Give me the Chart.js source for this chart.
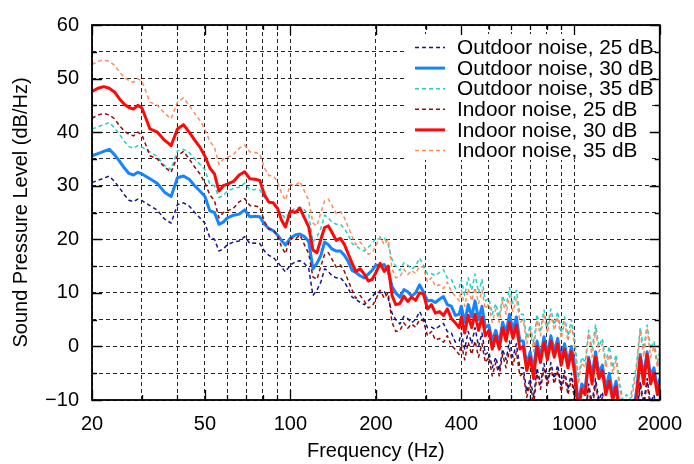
<!DOCTYPE html>
<html>
<head>
<meta charset="utf-8">
<script src="https://cdn.jsdelivr.net/npm/chart.js@4.4.1/dist/chart.umd.min.js"></script>
<style>
  body { margin: 0; background: #fff; }
  canvas { display: block; }
</style>
</head>
<body>
<canvas id="myChart" width="694" height="464"></canvas>
<script>
// frequencies (Hz) shared by every series
const freq = [
    20, 21, 22, 23, 24, 25, 26, 27, 28, 29, 30, 32, 34, 36, 38, 40, 42, 44, 46, 48, 50, 52, 54, 56, 58, 60, 63, 66, 69, 72, 75, 78, 81, 84, 87, 90, 93, 96,
    100, 104, 108, 112, 116, 120, 124, 128, 132, 136, 140, 145, 150, 155, 160, 165, 170, 176, 182, 188, 194, 200, 207, 214, 221, 228, 235, 243, 251, 259, 267, 276, 285, 294, 304, 314, 324, 335, 346, 357, 369, 381, 393,
    400, 411, 423, 435, 447, 460, 473, 486, 500, 514, 529, 544, 559, 575, 591, 608, 625, 643, 661, 680, 699, 719, 739, 760, 782, 804, 827, 850, 874, 899, 924, 950, 977, 1005, 1033, 1062, 1092, 1123, 1155, 1188, 1221, 1256, 1291, 1328, 1365, 1404, 1444, 1485, 1527, 1570, 1614, 1660, 1707, 1755, 1805, 1856, 1908, 1962, 2000
]

const outdoor25 = [
    30.6, 31.0, 31.4, 31.8, 30.8, 29.6, 28.3, 27.3, 27.0, 27.5, 27.2, 26.3, 25.4, 23.8, 23.0, 26.5, 26.8, 26.2, 25.0, 24.0, 23.0, 20.3, 20.0, 17.8, 18.2, 19.0, 19.5, 19.7, 20.5, 19.2, 19.3, 19.2, 17.8, 17.0, 16.6, 15.8, 14.8, 13.9,
    15.2, 15.8, 16.0, 15.5, 14.6, 9.5, 10.5, 12.0, 14.5, 14.0, 13.2, 12.8, 12.8, 12.0, 10.8, 9.2, 8.8, 8.2, 7.8, 8.5, 9.2, 10.2, 10.0, 10.3, 9.0, 6.2, 5.0, 4.2, 5.6, 5.2, 4.4, 5.0, 6.5, 5.2, 3.5, 3.6, 3.2, 3.8, 4.3, 2.8, 2.5, 0.8, 1.0,
    2.5, -0.5, 2.8, 0.5, 3.5, 0.0, 2.5, -1.5, -1.0, -4.0, -2.0, -4.5, -0.5, -2.5, 1.0, -2.0, 0.5, -4.0, -4.0, -8.5, -6.0, -9.5, -4.0, -7.0, -3.2, -6.5, -3.0, -6.0, -3.5, -7.5, -4.5, -8.0, -5.0, -9.0, -16.0, -12.0, -13.0, -7.0, -10.5, -6.0, -10.0, -8.5, -13.0, -10.0, -14.0, -11.5, -17.0, -20.0, -19.0, -20.0, -17.0, -13.0, -6.5, -10.5, -6.0, -10.5, -9.0, -13.0, -11.0
]
const outdoor30 = [
    35.6, 36.0, 36.4, 36.8, 35.8, 34.6, 33.3, 32.3, 32.0, 32.5, 32.2, 31.3, 30.4, 28.8, 28.0, 31.5, 31.8, 31.2, 30.0, 29.0, 28.0, 25.3, 25.0, 22.8, 23.2, 24.0, 24.5, 24.7, 25.5, 24.2, 24.3, 24.2, 22.8, 22.0, 21.6, 20.8, 19.8, 18.9,
    20.2, 20.8, 21.0, 20.5, 19.6, 14.5, 15.5, 17.0, 19.5, 19.0, 18.2, 17.8, 17.8, 17.0, 15.8, 14.2, 13.8, 13.2, 12.8, 13.5, 14.2, 15.2, 15.0, 15.3, 14.0, 11.2, 10.0, 9.2, 10.6, 10.2, 9.4, 10.0, 11.5, 10.2, 8.5, 8.6, 8.2, 8.8, 9.3, 7.8, 7.5, 5.8, 6.0,
    7.5, 4.5, 7.8, 5.5, 8.5, 5.0, 7.5, 3.5, 4.0, 1.0, 3.0, 0.5, 4.5, 2.5, 6.0, 3.0, 5.5, 1.0, 1.0, -3.5, -1.0, -4.5, 1.0, -2.0, 1.8, -1.5, 2.0, -1.0, 1.5, -2.5, 0.5, -3.0, 0.0, -4.0, -11.0, -7.0, -8.0, -2.0, -5.5, -1.0, -5.0, -3.5, -8.0, -5.0, -9.0, -6.5, -12.0, -15.0, -14.0, -15.0, -12.0, -8.0, -1.5, -5.5, -1.0, -5.5, -4.0, -8.0, -6.0
]
const outdoor35 = [
    40.6, 41.0, 41.4, 41.8, 40.8, 39.6, 38.3, 37.3, 37.0, 37.5, 37.2, 36.3, 35.4, 33.8, 33.0, 36.5, 36.8, 36.2, 35.0, 34.0, 33.0, 30.3, 30.0, 27.8, 28.2, 29.0, 29.5, 29.7, 30.5, 29.2, 29.3, 29.2, 27.8, 27.0, 26.6, 25.8, 24.8, 23.9,
    25.2, 25.8, 26.0, 25.5, 24.6, 19.5, 20.5, 22.0, 24.5, 24.0, 23.2, 22.8, 22.8, 22.0, 20.8, 19.2, 18.8, 18.2, 17.8, 18.5, 19.2, 20.2, 20.0, 20.3, 19.0, 16.2, 15.0, 14.2, 15.6, 15.2, 14.4, 15.0, 16.5, 15.2, 13.5, 13.6, 13.2, 13.8, 14.3, 12.8, 12.5, 10.8, 11.0,
    12.5, 9.5, 12.8, 10.5, 13.5, 10.0, 12.5, 8.5, 9.0, 6.0, 8.0, 5.5, 9.5, 7.5, 11.0, 8.0, 10.5, 6.0, 6.0, 1.5, 4.0, 0.5, 6.0, 3.0, 6.8, 3.5, 7.0, 4.0, 6.5, 2.5, 5.5, 2.0, 5.0, 1.0, -6.0, -2.0, -3.0, 3.0, -0.5, 4.0, 0.0, 1.5, -3.0, 0.0, -4.0, -1.5, -7.0, -10.0, -9.0, -10.0, -7.0, -3.0, 3.5, -0.5, 4.0, -0.5, 1.0, -3.0, -1.0
]
const indoor25 = [
    42.6, 43.2, 43.5, 43.2, 42.5, 41.2, 40.2, 39.6, 39.3, 40.0, 39.5, 35.6, 35.0, 33.5, 32.5, 35.6, 36.4, 35.0, 33.5, 32.2, 30.5, 28.3, 27.2, 24.0, 25.0, 25.3, 25.8, 27.0, 27.6, 26.3, 26.2, 26.0, 23.3, 21.9, 21.8, 20.8, 18.6, 17.3,
    20.3, 20.0, 20.8, 19.0, 17.3, 13.0, 12.5, 15.0, 17.2, 17.5, 16.3, 14.8, 15.2, 14.0, 12.2, 10.5, 9.0, 9.5, 8.5, 7.2, 7.5, 8.8, 10.5, 9.0, 10.0, 4.5, 2.8, 3.0, 4.4, 3.4, 4.2, 3.6, 5.0, 4.8, 2.0, 2.8, 1.2, 1.5, 0.8, 2.0, 0.2, -0.6, -1.5,
    0.5, -2.5, 0.8, -1.5, 1.0, -2.0, 0.5, -3.0, -2.0, -5.5, -3.0, -5.5, -1.5, -4.0, -0.5, -3.5, -1.0, -5.5, -5.0, -9.5, -7.0, -11.0, -5.0, -8.0, -4.2, -7.5, -4.0, -7.0, -4.5, -8.5, -5.5, -9.0, -6.0, -10.5, -17.0, -13.0, -14.0, -7.5, -12.0, -7.0, -11.0, -9.5, -14.0, -11.5, -15.0, -12.5, -18.0, -21.0, -20.0, -21.0, -18.0, -14.0, -7.0, -12.0, -6.5, -12.0, -10.0, -14.0, -12.0
]
const indoor30 = [
    47.6, 48.2, 48.5, 48.2, 47.5, 46.2, 45.2, 44.6, 44.3, 45.0, 44.5, 40.6, 40.0, 38.5, 37.5, 40.6, 41.4, 40.0, 38.5, 37.2, 35.5, 33.3, 32.2, 29.0, 30.0, 30.3, 30.8, 32.0, 32.6, 31.3, 31.2, 31.0, 28.3, 26.9, 26.8, 25.8, 23.6, 22.3,
    25.3, 25.0, 25.8, 24.0, 22.3, 18.0, 17.5, 20.0, 22.2, 22.5, 21.3, 19.8, 20.2, 19.0, 17.2, 15.5, 14.0, 14.5, 13.5, 12.2, 12.5, 13.8, 15.5, 14.0, 15.0, 9.5, 7.8, 8.0, 9.4, 8.4, 9.2, 8.6, 10.0, 9.8, 7.0, 7.8, 6.2, 6.5, 5.8, 7.0, 5.2, 4.4, 3.5,
    5.5, 2.5, 5.8, 3.5, 6.0, 3.0, 5.5, 2.0, 3.0, -0.5, 2.0, -0.5, 3.5, 1.0, 4.5, 1.5, 4.0, -0.5, 0.0, -4.5, -2.0, -6.0, 0.0, -3.0, 0.8, -2.5, 1.0, -2.0, 0.5, -3.5, -0.5, -4.0, -1.0, -5.5, -12.0, -8.0, -9.0, -2.5, -7.0, -2.0, -6.0, -4.5, -9.0, -6.5, -10.0, -7.5, -13.0, -16.0, -15.0, -16.0, -13.0, -9.0, -2.0, -7.0, -1.5, -7.0, -5.0, -9.0, -7.0
]
const indoor35 = [
    52.6, 53.2, 53.5, 53.2, 52.5, 51.2, 50.2, 49.6, 49.3, 50.0, 49.5, 45.6, 45.0, 43.5, 42.5, 45.6, 46.4, 45.0, 43.5, 42.2, 40.5, 38.3, 37.2, 34.0, 35.0, 35.3, 35.8, 37.0, 37.6, 36.3, 36.2, 36.0, 33.3, 31.9, 31.8, 30.8, 28.6, 27.3,
    30.3, 30.0, 30.8, 29.0, 27.3, 23.0, 22.5, 25.0, 27.2, 27.5, 26.3, 24.8, 25.2, 24.0, 22.2, 20.5, 19.0, 19.5, 18.5, 17.2, 17.5, 18.8, 20.5, 19.0, 20.0, 14.5, 12.8, 13.0, 14.4, 13.4, 14.2, 13.6, 15.0, 14.8, 12.0, 12.8, 11.2, 11.5, 10.8, 12.0, 10.2, 9.4, 8.5,
    10.5, 7.5, 10.8, 8.5, 11.0, 8.0, 10.5, 7.0, 8.0, 4.5, 7.0, 4.5, 8.5, 6.0, 9.5, 6.5, 9.0, 4.5, 5.0, 0.5, 3.0, -1.0, 5.0, 2.0, 5.8, 2.5, 6.0, 3.0, 5.5, 1.5, 4.5, 1.0, 4.0, -0.5, -7.0, -3.0, -4.0, 2.5, -2.0, 3.0, -1.0, 0.5, -4.0, -1.5, -5.0, -2.5, -8.0, -11.0, -10.0, -11.0, -8.0, -4.0, 3.0, -2.0, 3.5, -2.0, 0.0, -4.0, -2.0
]

const seriesNames = ['Outdoor noise, 25 dB', 'Outdoor noise, 30 dB', 'Outdoor noise, 35 dB',
    'Indoor noise, 25 dB', 'Indoor noise, 30 dB', 'Indoor noise, 35 dB']
const seriesValues = [outdoor25, outdoor30, outdoor35, indoor25, indoor30, indoor35]

// tick labels / grid positions
const xGrid = [20, 30, 40, 50, 60, 70, 80, 90, 100, 200, 300, 400, 500, 600, 700, 800, 900, 1000, 2000]
const xLabels = [20, 50, 100, 200, 400, 1000, 2000]
const yMin = -10
const yMax = 60

// styles, separate from the data
const styles = [
    { color: '#14148c', width: 1.5, dash: [4, 3] },
    { color: '#1584ff', width: 3, dash: [] },
    { color: '#22cfc6', width: 1.5, dash: [4, 3] },
    { color: '#960a0a', width: 1.5, dash: [4, 3] },
    { color: '#ff0808', width: 3, dash: [] },
    { color: '#ff8c5c', width: 1.5, dash: [4, 3] },
]

const FONT = 'Liberation Sans, Arial, Helvetica, sans-serif'

const fmt = v => v < 0 ? '\u2212' + Math.abs(v) : String(v)

// legend box, border and inward tick marks (gnuplot style)
const framePlugin = {
    id: 'frame',
    afterDatasetsDraw(chart) {
        const { ctx, chartArea: a, scales: { x, y } } = chart
        ctx.save()

        // legend
        const boxL = a.left + 312, boxT = a.top + 9, boxR = a.right - 9, boxB = a.top + 135
        ctx.fillStyle = '#fff'
        ctx.fillRect(boxL, boxT, boxR - boxL, boxB - boxT)
        ctx.font = '20.8px ' + FONT
        ctx.textBaseline = 'middle'
        ctx.textAlign = 'left'
        seriesNames.forEach((name, i) => {
            const yy = a.top + 22.5 + i * 20.6
            const st = styles[i]
            ctx.strokeStyle = st.color
            ctx.lineWidth = st.width
            ctx.setLineDash(st.dash)
            ctx.beginPath()
            ctx.moveTo(boxL + 11, yy)
            ctx.lineTo(boxL + 41, yy)
            ctx.stroke()
            ctx.fillStyle = '#000'
            ctx.fillText(name, boxL + 53, yy + 1)
        })

        // tick marks
        ctx.setLineDash([])
        ctx.strokeStyle = '#000'
        ctx.lineWidth = 1.3
        ctx.beginPath()
        xGrid.forEach(v => {
            const px = Math.round(x.getPixelForValue(v)) + 0.5
            const len = xLabels.includes(v) ? 10 : 5
            ctx.moveTo(px, a.bottom); ctx.lineTo(px, a.bottom - len)
            ctx.moveTo(px, a.top); ctx.lineTo(px, a.top + len)
        })
        for (let v = yMin; v <= yMax; v += 5) {
            const py = Math.round(y.getPixelForValue(v)) + 0.5
            const len = v % 10 === 0 ? 10 : 5
            ctx.moveTo(a.left, py); ctx.lineTo(a.left + len, py)
            ctx.moveTo(a.right, py); ctx.lineTo(a.right - len, py)
        }
        ctx.stroke()

        ctx.lineWidth = 1.8
        ctx.strokeRect(a.left, a.top, a.right - a.left, a.bottom - a.top)
        ctx.restore()
    }
}

let ctx = document.querySelector('#myChart').getContext('2d')

let myChart = new Chart(ctx, {
    type: 'line',
    data: {
        datasets: seriesValues.map((vals, i) => ({
            label: seriesNames[i],
            data: freq.map((f, j) => ({ x: f, y: vals[j] })),
            borderColor: styles[i].color,
            borderWidth: styles[i].width,
            borderDash: styles[i].dash,
            borderJoinStyle: 'round',
            pointRadius: 0,
            tension: 0,
            fill: false,
            order: seriesValues.length - i,
        }))
    },
    options: {
        responsive: false,
        animation: false,
        devicePixelRatio: 1,
        layout: { padding: { left: 0, right: 25, top: 20, bottom: 0 } },
        plugins: {
            legend: { display: false },
            tooltip: { enabled: false },
        },
        scales: {
            x: {
                type: 'logarithmic',
                min: 20,
                max: 2000,
                afterBuildTicks: s => { s.ticks = xGrid.map(v => ({ value: v })) },
                afterFit: s => { s.height = 64 },
                grid: { color: 'rgba(0,0,0,0.85)', lineWidth: 1, drawTicks: false },
                border: { display: false, dash: [4, 3] },
                ticks: {
                    autoSkip: false,
                    maxRotation: 0,
                    padding: 12,
                    color: '#000',
                    font: { family: FONT, size: 20 },
                    callback: v => xLabels.includes(v) ? String(v) : '',
                },
                title: {
                    display: true,
                    text: 'Frequency (Hz)',
                    color: '#000',
                    font: { family: FONT, size: 20 },
                    padding: { top: 0, bottom: 1 },
                },
            },
            y: {
                min: yMin,
                max: yMax,
                afterFit: s => { s.width = 92 },
                grid: { color: 'rgba(0,0,0,0.85)', lineWidth: 1, drawTicks: false },
                border: { display: false, dash: [4, 3] },
                ticks: {
                    stepSize: 5,
                    autoSkip: false,
                    padding: 13,
                    color: '#000',
                    font: { family: FONT, size: 20 },
                    callback: v => v % 10 === 0 ? fmt(v) : '',
                },
                title: {
                    display: true,
                    text: 'Sound Pressure Level (dB/Hz)',
                    color: '#000',
                    font: { family: FONT, size: 20 },
                    padding: { top: 9, bottom: 0 },
                },
            },
        },
    },
    plugins: [framePlugin],
})
</script>
</body>
</html>
